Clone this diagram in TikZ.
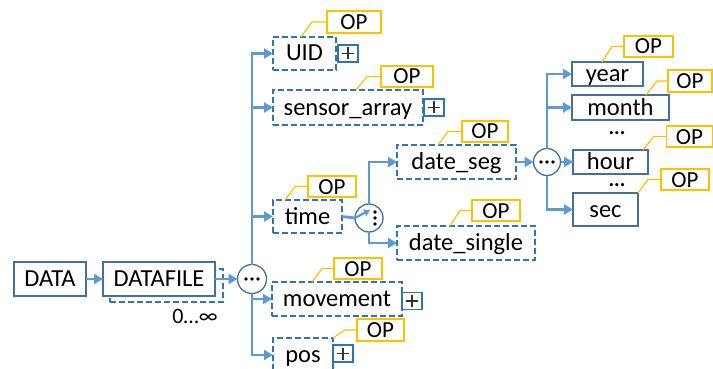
\documentclass[tikz,border=0pt]{standalone}
\usepackage{fontspec}
\setmainfont{Carlito}
\usetikzlibrary{arrows.meta,calc}
\definecolor{lineblue}{RGB}{91,155,213}
\definecolor{boxblue}{RGB}{65,113,156}
\definecolor{dashblue}{RGB}{46,117,182}
\definecolor{opyellow}{RGB}{255,192,0}
\begin{document}
\begin{tikzpicture}[x=1pt,y=-1pt,
  every node/.style={inner sep=0pt, outer sep=0pt},
  boxfont/.style={font=\fontsize{24.5}{28}\selectfont, text height=18pt, text depth=3pt},
  solidbox/.style={draw=boxblue, line width=1.6pt, fill=white, boxfont},
  dashbox/.style={draw=dashblue, line width=1.5pt, dash pattern=on 6pt off 3pt, fill=white, boxfont},
  opbox/.style={draw=opyellow, line width=1.5pt, fill=white, font=\fontsize{23}{26}\selectfont, text height=16pt, text depth=1pt},
  plusbox/.style={draw=dashblue, line width=1.4pt, fill=white, minimum width=20pt, minimum height=17pt,
    path picture={\draw[line width=1.4pt, black!80]
      ([xshift=-6pt]path picture bounding box.center) -- ([xshift=6pt]path picture bounding box.center)
      ([yshift=-6pt]path picture bounding box.center) -- ([yshift=6pt]path picture bounding box.center);}},
  hub/.style={circle, draw=boxblue, line width=1.3pt, fill=white, minimum size=28pt},
  conn/.style={draw=lineblue, line width=2.8pt, -{Triangle[length=9pt,width=10pt]}},
  callout/.style={draw=opyellow, line width=1.2pt},
  dotsfont/.style={font=\fontsize{21}{22}\selectfont\bfseries, text height=4pt, text depth=0pt},
]
\fill[white] (0,0) rectangle (713,369);
\useasboundingbox (0,0) rectangle (713,369);

% root chain
\node[solidbox, minimum width=72pt, minimum height=34pt] (data) at (50,279) {DATA};
\node[dashbox, minimum width=113pt, minimum height=33pt] (dfshadow) at (166.5,285.5) {};
\node[solidbox, minimum width=112pt, minimum height=34pt] (datafile) at (159,279) {DATAFILE};
\node[font=\fontsize{22}{24}\selectfont] (card) at (195,316) {0…∞};
\node[hub, minimum size=29pt] (c1) at (252,279) {};

% first level children
\node[dashbox, minimum width=63pt, minimum height=33pt] (uid) at (304.5,53.5) {UID};
\node[plusbox] (uidplus) at (348,53.5) {};
\node[opbox, minimum width=54pt, minimum height=22pt] (uidop) at (354,22) {OP};

\node[dashbox, minimum width=150pt, minimum height=35pt] (sensor) at (348,107.5) {sensor\_array};
\node[plusbox] (sensorplus) at (434,107.5) {};
\node[opbox, minimum width=52pt, minimum height=21pt] (sensorop) at (407,76.5) {OP};

\node[dashbox, minimum width=69pt, minimum height=33pt] (time) at (307.5,216.5) {time};
\node[opbox, minimum width=48pt, minimum height=21pt] (timeop) at (332,186.5) {OP};

\node[dashbox, minimum width=130pt, minimum height=34pt] (movement) at (337,299) {movement};
\node[plusbox] (movementplus) at (412,301) {};
\node[opbox, minimum width=48pt, minimum height=21pt] (movementop) at (358,268.5) {OP};

\node[dashbox, minimum width=60pt, minimum height=34pt] (pos) at (303,355) {pos};
\node[plusbox] (posplus) at (343,353.5) {};
\node[opbox, minimum width=47pt, minimum height=22pt] (posop) at (380.5,330) {OP};

% time choice
\node[hub] (c2) at (369,218) {};
\node[dashbox, minimum width=119pt, minimum height=34pt] (dateseg) at (456.5,162) {date\_seg};
\node[opbox, minimum width=46pt, minimum height=21pt] (datesegop) at (485,131.5) {OP};
\node[dashbox, minimum width=138pt, minimum height=34pt] (datesingle) at (466,243) {date\_single};
\node[opbox, minimum width=48pt, minimum height=21pt] (datesingleop) at (496,210.5) {OP};

% date segments
\node[hub, minimum size=27pt] (c3) at (547,162) {};
\node[solidbox, minimum width=71pt, minimum height=24pt] (year) at (607.5,74) {year};
\node[opbox, minimum width=49pt, minimum height=21pt] (yearop) at (648.5,46.5) {OP};
\node[solidbox, minimum width=97pt, minimum height=25pt] (month) at (620.5,107.5) {month};
\node[opbox, minimum width=44pt, minimum height=22pt] (monthop) at (690,81) {OP};
\node[dotsfont] (dotsA) at (617,133) {...};
\node[solidbox, minimum width=75pt, minimum height=24pt] (hour) at (610.5,162) {hour};
\node[opbox, minimum width=46pt, minimum height=21pt] (hourop) at (689.5,136.5) {OP};
\node[dotsfont] (dotsB) at (617,184) {...};
\node[solidbox, minimum width=65pt, minimum height=33pt] (sec) at (605.5,209.5) {sec};
\node[opbox, minimum width=48pt, minimum height=21pt] (secop) at (685,179.5) {OP};

% dots inside the hubs
\foreach \d in {-6,0,6} {
  \fill ([xshift=\d pt]c1.center) circle (1.9);
  \fill ([xshift=\d pt]c3.center) circle (1.9);
  \fill ([shift={(6,\d)}]c2.center) circle (1.9);
}

% connectors
\draw[conn] (data.east) -- (datafile.west);
\draw[conn] (datafile.east) -- (c1.west);
\draw[conn] (c1.north) |- (uid.west);
\draw[conn] (c1.north) |- (sensor.west);
\draw[conn] (c1.north) |- (time.west);
\draw[conn] (c1.south) |- (movement.west);
\draw[conn] (c1.south) |- (pos.west);
\draw[draw=lineblue, line width=2.8pt] (time.east) -- (c2.west);
\draw[draw=lineblue, line width=2.2pt, -{Triangle[length=6pt,width=7pt]}] (c2.west) -- ([shift={(1,-8)}]c2.center);
\draw[conn] (c2.north) |- (dateseg.west);
\draw[conn] (c2.south) |- (datesingle.west);
\draw[conn] (dateseg.east) -- (c3.west);
\draw[conn] (c3.north) |- (year.west);
\draw[conn] (c3.north) |- (month.west);
\draw[conn] (c3.east) -- (hour.west);
\draw[conn] (c3.south) |- (sec.west);

% OP callouts
\draw[callout] ([xshift=28pt]uid.north west) -- ([xshift=-15pt]uidop.west) -- (uidop.west);
\draw[callout] ([xshift=83pt]sensor.north west) -- ([xshift=-14pt]sensorop.west) -- (sensorop.west);
\draw[callout] ([xshift=12pt]time.north west) -- ([xshift=-13pt]timeop.west) -- (timeop.west);
\draw[callout] ([xshift=41pt]dateseg.north west) -- ([xshift=-14pt]datesegop.west) -- (datesegop.west);
\draw[callout] ([xshift=53pt]datesingle.north west) -- ([xshift=-12pt]datesingleop.west) -- (datesingleop.west);
\draw[callout] ([xshift=30pt]year.north west) -- ([xshift=-12pt]yearop.west) -- (yearop.west);
\draw[callout] ([xshift=74pt]month.north west) -- ([xshift=-11pt]monthop.west) -- (monthop.west);
\draw[callout] ([xshift=70pt]hour.north west) -- ([xshift=-13pt]hourop.west) -- (hourop.west);
\draw[callout] (sec.north east) -- ([xshift=-13pt]secop.west) -- (secop.west);
\draw[callout] ([xshift=40pt]movement.north west) -- ([xshift=-12pt]movementop.west) -- (movementop.west);
\draw[callout] (pos.north east) -- ([xshift=-12pt]posop.west) -- (posop.west);
\end{tikzpicture}
\end{document}
